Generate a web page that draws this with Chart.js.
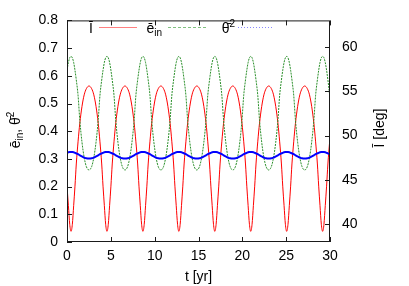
<!DOCTYPE html>
<html>
<head>
<meta charset="utf-8">
<script src="https://cdn.jsdelivr.net/npm/chart.js@4.4.1/dist/chart.umd.min.js"></script>
<style>
  html, body { margin: 0; padding: 0; background: #fff; }
  canvas { display: block; }
</style>
</head>
<body>
<canvas id="kozai" width="409" height="286"></canvas>
<script>
// Values (one line per oscillation cycle)
const years = [
  0.00, 0.16, 0.31,
  0.46, 0.61, 0.76, 0.91, 1.06, 1.26, 1.46, 1.71, 1.96, 2.21, 2.51, 2.81, 3.06, 3.31, 3.56, 3.76, 3.96, 4.11, 4.26, 4.41,
  4.56, 4.71, 4.86, 5.01, 5.16, 5.36, 5.56, 5.81, 6.06, 6.31, 6.61, 6.91, 7.16, 7.41, 7.66, 7.86, 8.06, 8.21, 8.36, 8.51,
  8.66, 8.81, 8.96, 9.11, 9.26, 9.46, 9.66, 9.91, 10.16, 10.41, 10.71, 11.01, 11.26, 11.51, 11.76, 11.96, 12.16, 12.31, 12.46, 12.61,
  12.76, 12.91, 13.06, 13.21, 13.36, 13.56, 13.76, 14.01, 14.26, 14.51, 14.81, 15.11, 15.36, 15.61, 15.86, 16.06, 16.26, 16.41, 16.56, 16.71,
  16.86, 17.01, 17.16, 17.31, 17.46, 17.66, 17.86, 18.11, 18.36, 18.61, 18.91, 19.21, 19.46, 19.71, 19.96, 20.16, 20.36, 20.51, 20.66, 20.81,
  20.96, 21.11, 21.26, 21.41, 21.56, 21.76, 21.96, 22.21, 22.46, 22.71, 23.01, 23.31, 23.56, 23.81, 24.06, 24.26, 24.46, 24.61, 24.76, 24.91,
  25.06, 25.21, 25.36, 25.51, 25.66, 25.86, 26.06, 26.31, 26.56, 26.81, 27.11, 27.41, 27.66, 27.91, 28.16, 28.36, 28.56, 28.71, 28.86, 29.01,
  29.16, 29.31, 29.46, 29.61, 29.76, 29.96, 30.00
];

// mean inclination [deg] (right axis)
const inclination = [
  44.3, 42.1, 40.0,
  39.2, 40.0, 42.1, 44.3, 46.8, 49.3, 51.4, 53.3, 54.6, 55.3, 55.6, 55.3, 54.6, 53.3, 51.4, 49.3, 46.8, 44.3, 42.1, 40.0,
  39.2, 40.0, 42.1, 44.3, 46.8, 49.3, 51.4, 53.3, 54.6, 55.3, 55.6, 55.3, 54.6, 53.3, 51.4, 49.3, 46.8, 44.3, 42.1, 40.0,
  39.2, 40.0, 42.1, 44.3, 46.8, 49.3, 51.4, 53.3, 54.6, 55.3, 55.6, 55.3, 54.6, 53.3, 51.4, 49.3, 46.8, 44.3, 42.1, 40.0,
  39.2, 40.0, 42.1, 44.3, 46.8, 49.3, 51.4, 53.3, 54.6, 55.3, 55.6, 55.3, 54.6, 53.3, 51.4, 49.3, 46.8, 44.3, 42.1, 40.0,
  39.2, 40.0, 42.1, 44.3, 46.8, 49.3, 51.4, 53.3, 54.6, 55.3, 55.6, 55.3, 54.6, 53.3, 51.4, 49.3, 46.8, 44.3, 42.1, 40.0,
  39.2, 40.0, 42.1, 44.3, 46.8, 49.3, 51.4, 53.3, 54.6, 55.3, 55.6, 55.3, 54.6, 53.3, 51.4, 49.3, 46.8, 44.3, 42.1, 40.0,
  39.2, 40.0, 42.1, 44.3, 46.8, 49.3, 51.4, 53.3, 54.6, 55.3, 55.6, 55.3, 54.6, 53.3, 51.4, 49.3, 46.8, 44.3, 42.1, 40.0,
  39.2, 40.0, 42.1, 44.3, 46.8, 49.3, 49.7
];

// inner eccentricity (left axis)
const eccIn = [
  0.620, 0.648, 0.665,
  0.670, 0.665, 0.648, 0.620, 0.585, 0.530, 0.440, 0.360, 0.305, 0.272, 0.260, 0.272, 0.305, 0.360, 0.440, 0.530, 0.585, 0.620, 0.648, 0.665,
  0.670, 0.665, 0.648, 0.620, 0.585, 0.530, 0.440, 0.360, 0.305, 0.272, 0.260, 0.272, 0.305, 0.360, 0.440, 0.530, 0.585, 0.620, 0.648, 0.665,
  0.670, 0.665, 0.648, 0.620, 0.585, 0.530, 0.440, 0.360, 0.305, 0.272, 0.260, 0.272, 0.305, 0.360, 0.440, 0.530, 0.585, 0.620, 0.648, 0.665,
  0.670, 0.665, 0.648, 0.620, 0.585, 0.530, 0.440, 0.360, 0.305, 0.272, 0.260, 0.272, 0.305, 0.360, 0.440, 0.530, 0.585, 0.620, 0.648, 0.665,
  0.670, 0.665, 0.648, 0.620, 0.585, 0.530, 0.440, 0.360, 0.305, 0.272, 0.260, 0.272, 0.305, 0.360, 0.440, 0.530, 0.585, 0.620, 0.648, 0.665,
  0.670, 0.665, 0.648, 0.620, 0.585, 0.530, 0.440, 0.360, 0.305, 0.272, 0.260, 0.272, 0.305, 0.360, 0.440, 0.530, 0.585, 0.620, 0.648, 0.665,
  0.670, 0.665, 0.648, 0.620, 0.585, 0.530, 0.440, 0.360, 0.305, 0.272, 0.260, 0.272, 0.305, 0.360, 0.440, 0.530, 0.585, 0.620, 0.648, 0.665,
  0.670, 0.665, 0.648, 0.620, 0.585, 0.530, 0.515
];

// mean theta^2 (left axis)
const thetaSq = [
  0.322, 0.324, 0.325,
  0.325, 0.325, 0.324, 0.322, 0.320, 0.317, 0.313, 0.309, 0.305, 0.302, 0.301, 0.302, 0.305, 0.309, 0.313, 0.317, 0.320, 0.322, 0.324, 0.325,
  0.325, 0.325, 0.324, 0.322, 0.320, 0.317, 0.313, 0.309, 0.305, 0.302, 0.301, 0.302, 0.305, 0.309, 0.313, 0.317, 0.320, 0.322, 0.324, 0.325,
  0.325, 0.325, 0.324, 0.322, 0.320, 0.317, 0.313, 0.309, 0.305, 0.302, 0.301, 0.302, 0.305, 0.309, 0.313, 0.317, 0.320, 0.322, 0.324, 0.325,
  0.325, 0.325, 0.324, 0.322, 0.320, 0.317, 0.313, 0.309, 0.305, 0.302, 0.301, 0.302, 0.305, 0.309, 0.313, 0.317, 0.320, 0.322, 0.324, 0.325,
  0.325, 0.325, 0.324, 0.322, 0.320, 0.317, 0.313, 0.309, 0.305, 0.302, 0.301, 0.302, 0.305, 0.309, 0.313, 0.317, 0.320, 0.322, 0.324, 0.325,
  0.325, 0.325, 0.324, 0.322, 0.320, 0.317, 0.313, 0.309, 0.305, 0.302, 0.301, 0.302, 0.305, 0.309, 0.313, 0.317, 0.320, 0.322, 0.324, 0.325,
  0.325, 0.325, 0.324, 0.322, 0.320, 0.317, 0.313, 0.309, 0.305, 0.302, 0.301, 0.302, 0.305, 0.309, 0.313, 0.317, 0.320, 0.322, 0.324, 0.325,
  0.325, 0.325, 0.324, 0.322, 0.320, 0.317, 0.316
];

// tick labels on the right (inclination) axis
const inclTicks = [40, 45, 50, 55, 60];

const FONT = '"Liberation Sans", Arial, sans-serif';
const TICK_LEN = 5;

const pairs = (ys) => years.map((t, i) => ({ x: t, y: ys[i] }));

// draws a run of text pieces (for sub/superscripts); rotated if angle given
function drawRich(ctx, parts, x, y, align, angle) {
  ctx.save();
  ctx.translate(x, y);
  if (angle) ctx.rotate(angle);
  let total = 0;
  parts.forEach(p => {
    ctx.font = `${p.size}px ${FONT}`;
    p.w = ctx.measureText(p.t).width;
    total += p.w;
  });
  let cx = align === 'center' ? -total / 2 : (align === 'right' ? -total : 0);
  ctx.fillStyle = '#000';
  ctx.textBaseline = 'alphabetic';
  ctx.textAlign = 'left';
  parts.forEach(p => {
    ctx.font = `${p.size}px ${FONT}`;
    ctx.fillText(p.t, cx, p.dy || 0);
    cx += p.w;
  });
  ctx.restore();
}

// key line sample made of small runs (dash = [on, off])
function keySample(ctx, x0, x1, y, color, dash) {
  ctx.save();
  ctx.fillStyle = color;
  if (!dash) {
    ctx.fillRect(x0, y, x1 - x0, 1);
  } else {
    for (let x = x0; x < x1; x += dash[0] + dash[1]) {
      ctx.fillRect(x, y, Math.min(dash[0], x1 - x), 1);
    }
  }
  ctx.restore();
}

// gnuplot-like frame, inward ticks, axis titles and key
const gnuplotDecor = {
  id: 'gnuplotDecor',
  afterDraw(chart) {
    const { ctx, chartArea: a, scales } = chart;
    ctx.save();
    ctx.strokeStyle = '#1a1a1a';
    ctx.lineWidth = 1;
    ctx.setLineDash([]);
    ctx.strokeRect(a.left + 0.5, a.top + 0.5, a.right - a.left - 1, a.bottom - a.top - 1);

    ctx.beginPath();
    scales.x.ticks.forEach(t => {
      const px = Math.round(scales.x.getPixelForValue(t.value)) + 0.5;
      ctx.moveTo(px, a.bottom); ctx.lineTo(px, a.bottom - TICK_LEN);
      ctx.moveTo(px, a.top);    ctx.lineTo(px, a.top + TICK_LEN);
    });
    scales.y.ticks.forEach(t => {
      const py = Math.round(scales.y.getPixelForValue(t.value)) + 0.5;
      ctx.moveTo(a.left, py); ctx.lineTo(a.left + TICK_LEN, py);
    });
    scales.y2.ticks.forEach(t => {
      const py = Math.round(scales.y2.getPixelForValue(t.value)) + 0.5;
      ctx.moveTo(a.right, py); ctx.lineTo(a.right - TICK_LEN, py);
    });
    ctx.stroke();
    ctx.restore();

    // axis titles
    drawRich(ctx, [{ t: 't [yr]', size: 14 }], (a.left + a.right) / 2, 281, 'center');
    drawRich(ctx, [
      { t: 'ē', size: 14 }, { t: 'in', size: 10, dy: 3 },
      { t: ', θ̄', size: 14 }, { t: '2', size: 10, dy: -6 }
    ], 20, 130, 'center', -Math.PI / 2);
    drawRich(ctx, [{ t: 'Ī [deg]', size: 14 }], 384, 128, 'center', -Math.PI / 2);

    // key: label then line sample
    drawRich(ctx, [{ t: 'Ī', size: 14 }], 93, 33, 'right');
    drawRich(ctx, [{ t: 'ē', size: 14 }, { t: 'in', size: 10, dy: 3 }], 162, 33, 'right');
    drawRich(ctx, [{ t: 'θ̄', size: 14 }, { t: '2', size: 10, dy: -6 }], 235, 33, 'right');
    keySample(ctx, 99, 137, 27, '#ff8080', null);
    keySample(ctx, 168, 206, 27, '#80c080', [3, 2]);
    keySample(ctx, 238, 274, 27, '#8888ff', [1, 2]);
  }
};

const tickFont = { family: FONT, size: 14 };

new Chart(document.getElementById('kozai'), {
  type: 'line',
  data: {
    datasets: [
      {
        label: 'Ī',
        data: pairs(inclination),
        yAxisID: 'y2',
        borderColor: '#ff0000',
        borderWidth: 1,
        pointRadius: 0,
        cubicInterpolationMode: 'monotone',
        fill: false,
        order: 2,
      },
      {
        label: 'ē_in',
        data: pairs(eccIn),
        yAxisID: 'y',
        borderColor: '#2a8f2a',
        borderWidth: 1,
        borderDash: [2, 1],
        pointRadius: 0,
        cubicInterpolationMode: 'monotone',
        fill: false,
        order: 1,
      },
      {
        label: 'θ̄²',
        data: pairs(thetaSq),
        yAxisID: 'y',
        borderColor: '#0000ff',
        borderWidth: 2,
        pointRadius: 0,
        cubicInterpolationMode: 'monotone',
        fill: false,
        order: 0,
      },
    ],
  },
  options: {
    responsive: false,
    animation: false,
    layout: { padding: { top: 16 } },
    plugins: { legend: { display: false }, tooltip: { enabled: false } },
    scales: {
      x: {
        type: 'linear',
        min: 0, max: 30,
        ticks: { stepSize: 5, color: '#000', font: tickFont, padding: 6 },
        grid: { display: false, drawTicks: false },
        border: { display: false },
        afterFit: (s) => { s.height = 44; },
      },
      y: {
        position: 'left',
        min: 0, max: 0.8,
        ticks: { stepSize: 0.1, color: '#000', font: tickFont, padding: 9 },
        grid: { display: false, drawTicks: false },
        border: { display: false },
        afterFit: (s) => { s.width = 67; },
      },
      y2: {
        position: 'right',
        min: 38, max: 63,
        ticks: { color: '#000', font: tickFont, padding: 12 },
        grid: { display: false, drawTicks: false },
        border: { display: false },
        afterBuildTicks: (s) => { s.ticks = inclTicks.map(v => ({ value: v })); },
        afterFit: (s) => { s.width = 79; },
      },
    },
  },
  plugins: [gnuplotDecor],
});
</script>
</body>
</html>
